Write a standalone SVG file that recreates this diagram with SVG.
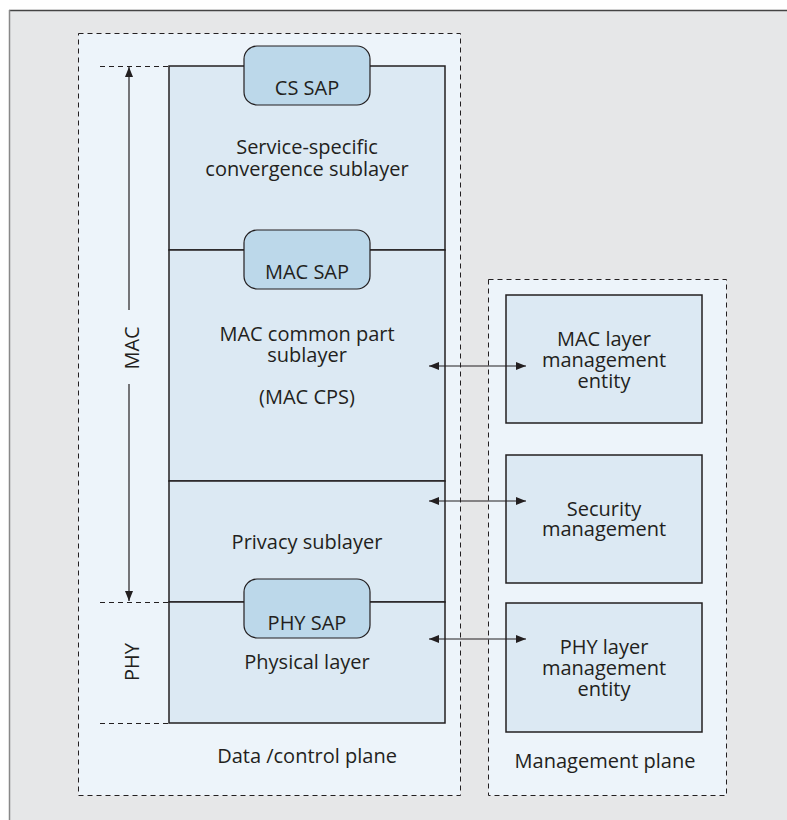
<svg xmlns="http://www.w3.org/2000/svg" width="787" height="820" viewBox="0 0 787 820">
<defs>
<marker id="ah" viewBox="0 0 10 8" refX="10" refY="4" markerWidth="10" markerHeight="8" markerUnits="userSpaceOnUse" orient="auto-start-reverse">
<path d="M0,0 L10,4 L0,8 Z" fill="#231f20"/>
</marker>
</defs>
<style>
text{font-family:"Open Sans","Noto Sans",sans-serif;font-size:20px;fill:#231f20;text-anchor:middle}
.plane{fill:#edf4fa;stroke:#231f20;stroke-width:1;stroke-dasharray:5,4}
.layer{fill:#dce9f3;stroke:#231f20;stroke-width:1.5}
.sap{fill:#bcd8ea;stroke:#231f20;stroke-width:1.2}
.tick{stroke:#231f20;stroke-width:1;stroke-dasharray:5,4;fill:none}
.conn{stroke:#231f20;stroke-width:1.2;fill:none}
</style>
<rect x="0" y="0" width="787" height="820" fill="#ffffff"/>
<rect x="9" y="10" width="778" height="810" fill="#e6e7e8"/>
<line x1="9" y1="10.5" x2="787" y2="10.5" stroke="#444" stroke-width="1.5"/>
<line x1="9.5" y1="10" x2="9.5" y2="820" stroke="#888" stroke-width="1.5"/>

<g id="data-plane">
<rect class="plane" x="78.5" y="33.5" width="382" height="762"/>
<text x="307" y="763">Data /control plane</text>
</g>
<g id="mgmt-plane">
<rect class="plane" x="488.5" y="279.5" width="238" height="516"/>
<text x="605" y="768">Management plane</text>
</g>

<g id="cs-layer">
<rect class="layer" x="169" y="66" width="276" height="184"/>
<text x="307" y="154">Service-specific</text>
<text x="307" y="176">convergence sublayer</text>
</g>
<g id="mac-cps">
<rect class="layer" x="169" y="250" width="276" height="231"/>
<text x="307" y="341">MAC common part</text>
<text x="307" y="362">sublayer</text>
<text x="307" y="404">(MAC CPS)</text>
</g>
<g id="privacy">
<rect class="layer" x="169" y="481" width="276" height="121"/>
<text x="307" y="549">Privacy sublayer</text>
</g>
<g id="phy-layer">
<rect class="layer" x="169" y="602" width="276" height="121"/>
<text x="307" y="669">Physical layer</text>
</g>
<g id="cs-sap">
<rect class="sap" x="244" y="46" width="126" height="59" rx="13"/>
<text x="307" y="95">CS SAP</text>
</g>
<g id="mac-sap">
<rect class="sap" x="244" y="230" width="126" height="59" rx="13"/>
<text x="307" y="279">MAC SAP</text>
</g>
<g id="phy-sap">
<rect class="sap" x="244" y="579" width="126" height="59" rx="13"/>
<text x="307" y="630">PHY SAP</text>
</g>

<g id="mac-mgmt">
<rect class="layer" x="506" y="295" width="196" height="128"/>
<text x="604" y="346">MAC layer</text>
<text x="604" y="367">management</text>
<text x="604" y="388">entity</text>
</g>
<g id="sec-mgmt">
<rect class="layer" x="506" y="455" width="196" height="128"/>
<text x="604" y="516">Security</text>
<text x="604" y="536">management</text>
</g>
<g id="phy-mgmt">
<rect class="layer" x="506" y="603" width="196" height="129"/>
<text x="604" y="654">PHY layer</text>
<text x="604" y="675">management</text>
<text x="604" y="696">entity</text>
</g>

<g id="scale">
<line class="tick" x1="100" y1="66.5" x2="169" y2="66.5"/>
<line class="tick" x1="100" y1="602.5" x2="169" y2="602.5"/>
<line class="tick" x1="100" y1="723.5" x2="169" y2="723.5"/>
<text transform="translate(139,348) rotate(-90)">MAC</text>
<text transform="translate(139,662) rotate(-90)">PHY</text>
</g>

<g id="connectors">
<line class="conn" x1="129" y1="67" x2="129" y2="310" marker-start="url(#ah)"/>
<line class="conn" x1="129" y1="384" x2="129" y2="601" marker-end="url(#ah)"/>
<line class="conn" x1="429" y1="366" x2="526" y2="366" marker-start="url(#ah)" marker-end="url(#ah)"/>
<line class="conn" x1="429" y1="501" x2="526" y2="501" marker-start="url(#ah)" marker-end="url(#ah)"/>
<line class="conn" x1="429" y1="639" x2="526" y2="639" marker-start="url(#ah)" marker-end="url(#ah)"/>
</g>
</svg>
